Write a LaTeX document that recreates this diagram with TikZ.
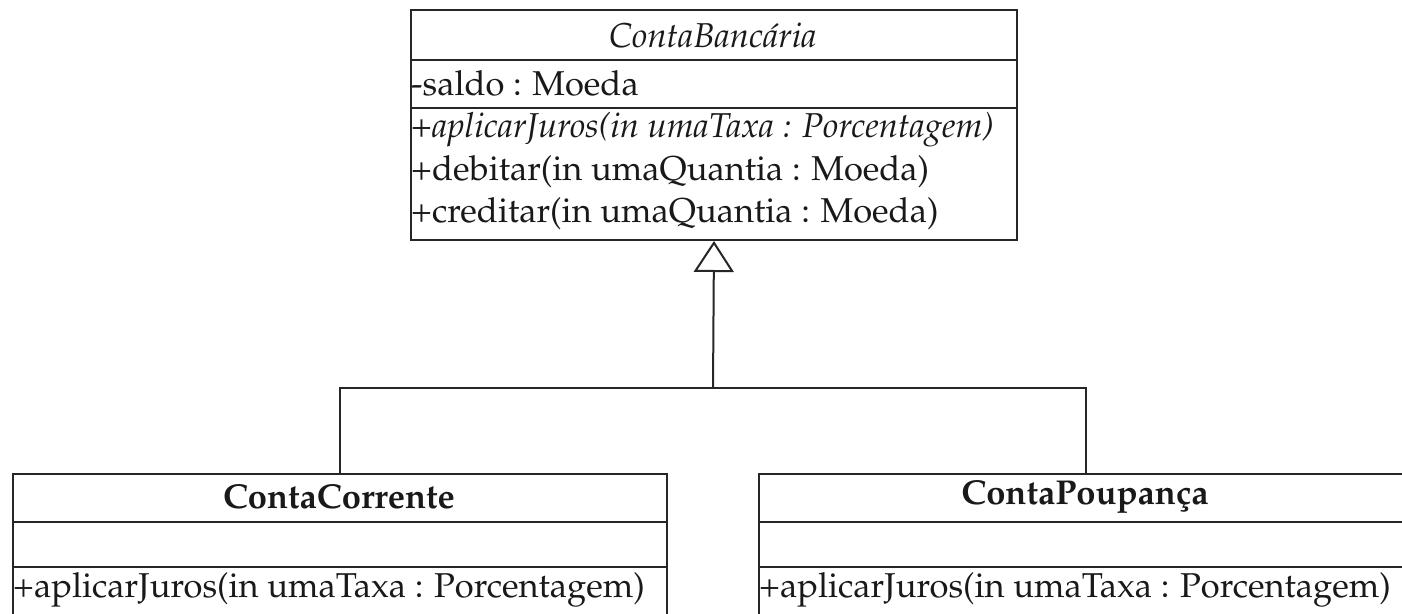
\documentclass[tikz,border=0pt]{standalone}
\usepackage[T1]{fontenc}
\renewcommand{\rmdefault}{ppl}
\usetikzlibrary{arrows.meta}
\tikzset{
  umlbox/.style={draw=black!85, line width=2pt, anchor=north west, inner sep=0pt},
  sep/.style={draw=black!85, line width=2pt},
  conn/.style={draw=black!85, line width=2pt},
  inherit/.style={conn, -{Triangle[open, width=40pt, length=31pt, line width=2pt]}},
  txt/.style={font=\fontsize{34.5}{40}\selectfont, inner sep=0pt, text=black!90},
  lefttxt/.style={txt, anchor=west},
}
\begin{document}
\begin{tikzpicture}[x=1pt,y=1pt]
\useasboundingbox (0,0) rectangle (1402,-613);
\clip (0,0) rectangle (1402,-613);
% ContaBancaria
\node[umlbox, minimum width=606pt, minimum height=230pt] (cb) at (410,-9) {};
\draw[sep] (410,-60) -- (1016,-60);
\draw[sep] (410,-108) -- (1016,-108);
\node[txt, font=\fontsize{34.5}{40}\selectfont\itshape] (cbt) at (713,-35) {ContaBanc\'aria};
\node[lefttxt] (cba) at (411,-83) {-saldo : Moeda};
\node[lefttxt] (cbm1) at (411,-130) {+\textit{aplicarJuros(in umaTaxa : Porcentagem)}};
\node[lefttxt] (cbm2) at (411,-172) {+debitar(in umaQuantia : Moeda)};
\node[lefttxt] (cbm3) at (411,-214) {+creditar(in umaQuantia : Moeda)};
% ContaCorrente
\node[umlbox, minimum width=654pt, minimum height=200pt] (cc) at (12,-473) {};
\draw[sep] (12,-522) -- (666,-522);
\draw[sep] (12,-567) -- (666,-567);
\node[txt, font=\fontsize{34.5}{40}\selectfont\bfseries] (cct) at (339,-497) {ContaCorrente};
\node[lefttxt] (ccm) at (13,-590) {+aplicarJuros(in umaTaxa : Porcentagem)};
% ContaPoupanca
\node[umlbox, minimum width=654pt, minimum height=200pt] (cp) at (758,-473) {};
\draw[sep] (758,-522) -- (1412,-522);
\draw[sep] (758,-567) -- (1412,-567);
\node[txt, font=\fontsize{34.5}{40}\selectfont\bfseries] (cpt) at (1085,-497) {ContaPoupan\c{c}a};
\node[lefttxt] (cpm) at (759,-590) {+aplicarJuros(in umaTaxa : Porcentagem)};
% generalisation
\coordinate (j) at (713,-388);
\draw[inherit] (j) -- (cb.south);
\draw[conn] (cc.north) |- (j);
\draw[conn] (cp.north) |- (j);
\end{tikzpicture}
\end{document}
